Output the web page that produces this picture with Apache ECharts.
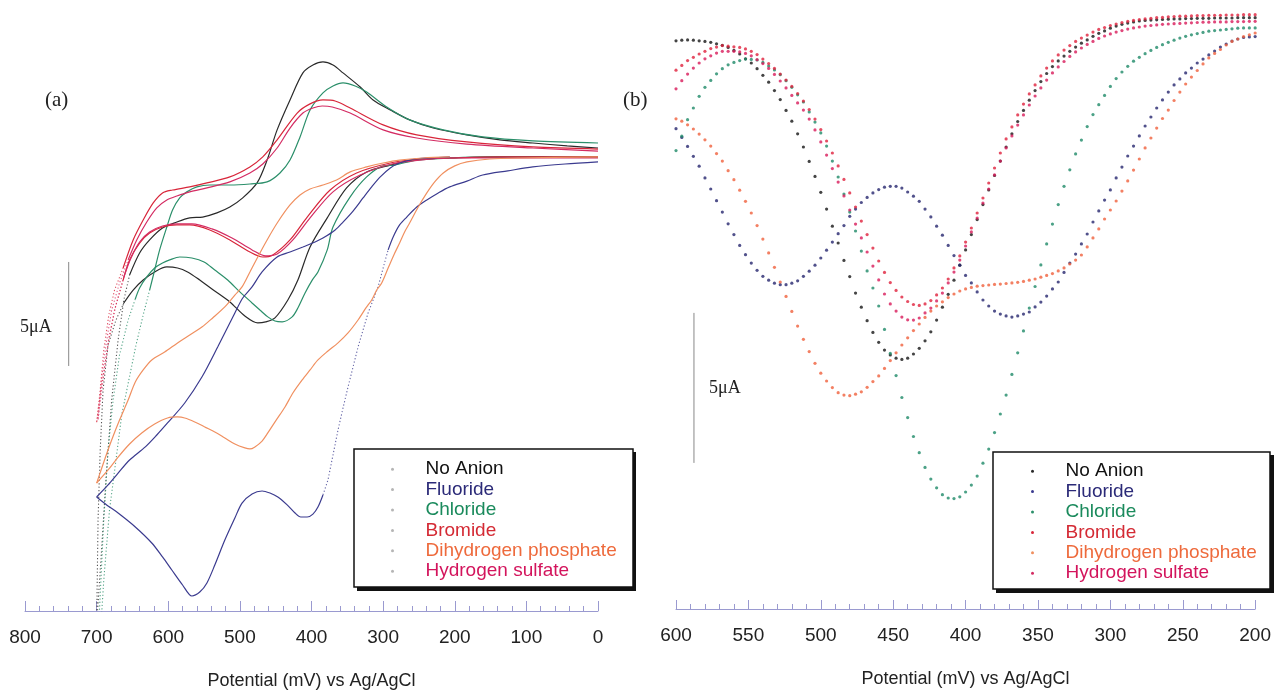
<!DOCTYPE html>
<html><head><meta charset="utf-8">
<script src="https://cdn.jsdelivr.net/npm/echarts@6/dist/echarts.min.js"></script>
<style>html,body{margin:0;padding:0;background:#fff}#chart{width:1274px;height:696px}</style>
</head><body><div id="chart"></div>
<script>
// ---------- common ----------
const anionNames = ['No Anion','Fluoride','Chloride','Bromide','Dihydrogen phosphate','Hydrogen sulfate'];
const axisTitle = 'Potential (mV) vs Ag/AgCl';

// ---------- panel (a): cyclic voltammograms, [potential mV, current µA] ----------
const cvNoAnionForward = [[0,21.83],[67,21.83],[137,21.83],[207,21.78],[249,21.73],[265,21.64],[290,21.44],[323,21.11],[351,20.34],[378,18.90],[402,17.50],[419,15.91],[433,14.95],[451,14.09],[464,13.90],[475,13.85],[493,14.18],[514,14.86],[539,15.48],[556,15.91],[573,16.30],[587,16.49],[602,16.54],[619,16.30],[635,15.91],[649,15.43],[662,14.81]];
const cvNoAnionSwitch = [[662,14.81],[673,13.99],[684,12.79],[691,10.63],[695,7.74],[698,4.38],[700,-0.67],[698,-0.67],[694,2.45],[687,6.30],[679,10.14],[670,13.03],[662,14.95],[654,16.15]];
const cvNoAnionReverse = [[654,16.15],[640,17.21],[626,17.84],[608,18.41],[588,18.70],[570,18.90],[552,18.94],[532,19.14],[514,19.42],[496,19.86],[476,20.58],[462,21.68],[448,23.13],[430,24.57],[412,25.87],[398,26.25],[384,26.40],[370,26.25],[356,25.87],[332,25.19],[314,24.57],[290,24.09],[263,23.61],[230,23.22],[183,22.89],[137,22.65],[91,22.50],[43,22.36],[0,22.26]];

const cvChlorideForward = [[0,21.83],[137,21.83],[207,21.78],[253,21.68],[284,21.44],[300,21.40],[323,20.87],[346,19.91],[370,18.46],[378,17.36],[391,16.30],[399,15.91],[409,15.29],[419,14.57],[427,14.14],[441,13.90],[451,13.94],[461,14.14],[472,14.47],[483,14.81],[500,15.34],[517,15.91],[535,16.39],[550,16.78],[567,16.97],[584,17.02],[598,16.88],[608,16.73],[619,16.49],[630,16.06],[640,15.53],[646,15.00]];
const cvChlorideSwitch = [[646,15.00],[656,13.99],[668,12.31],[677,10.14],[684,7.74],[690,4.38],[694,1.49],[697,-0.67],[694,-0.67],[690,1.49],[682,4.86],[673,7.26],[665,9.42],[655,11.11],[645,12.79],[635,14.23],[626,15.43]];
const cvChlorideReverse = [[626,15.43],[619,16.39],[612,17.36],[602,18.46],[594,19.28],[584,19.86],[574,20.15],[560,20.39],[542,20.48],[514,20.48],[486,20.53],[462,20.63],[444,21.06],[430,21.68],[416,22.79],[402,24.09],[384,24.91],[370,25.24],[356,25.39],[339,25.24],[323,24.95],[295,24.23],[263,23.61],[216,23.13],[161,22.79],[91,22.60],[0,22.50]];

const cvBromideForward = [[0,21.83],[137,21.83],[207,21.78],[249,21.73],[290,21.54],[337,21.06],[374,20.24],[406,18.94],[430,17.84],[454,17.12],[468,17.02],[486,17.26],[514,17.84],[542,18.32],[570,18.56],[588,18.56],[608,18.46],[626,18.17],[640,17.69],[654,16.88],[663,15.91]];
const cvBromideSwitch = [[663,15.91],[675,14.47],[684,12.79],[693,10.87],[700,9.04],[695,10.63],[690,12.55],[683,14.23],[675,15.43],[663,16.49]];
const cvBromideReverse = [[663,16.49],[649,17.84],[635,18.80],[621,19.62],[608,20.10],[594,20.24],[570,20.39],[546,20.58],[514,20.87],[486,21.35],[468,21.83],[448,22.65],[420,23.94],[402,24.38],[384,24.57],[367,24.52],[346,24.18],[300,23.37],[253,22.89],[183,22.55],[91,22.31],[0,22.21]];

const cvHydrogenSulfateForward = [[0,21.78],[137,21.78],[207,21.78],[249,21.68],[288,21.49],[332,20.96],[370,20.15],[402,18.90],[426,17.84],[448,17.16],[464,17.07],[483,17.36],[511,17.93],[539,18.37],[567,18.61],[587,18.61],[608,18.51],[626,18.22],[640,17.74],[652,16.97],[662,16.06]];
const cvHydrogenSulfateSwitch = [[662,16.06],[673,14.71],[683,13.13],[691,11.11],[698,9.18],[694,10.87],[687,12.79],[679,14.47],[668,15.77],[656,16.88]];
const cvHydrogenSulfateReverse = [[656,16.88],[644,17.84],[630,18.70],[616,19.38],[602,19.76],[588,19.95],[570,20.15],[546,20.34],[514,20.63],[486,21.06],[468,21.49],[448,22.26],[430,23.22],[412,23.94],[398,24.18],[385,24.28],[371,24.23],[346,23.94],[300,23.13],[253,22.74],[183,22.45],[91,22.26],[0,22.11]];

const cvFluorideLowStart = [[700,5.48],[686,5.10],[670,4.71],[646,4.04],[623,3.27],[608,2.60],[595,1.97],[580,1.25],[567,0.72],[556,0.91],[546,1.35],[535,2.21],[521,3.41],[507,4.47],[497,5.19],[483,5.63],[469,5.77],[458,5.67],[447,5.48],[434,5.10],[423,4.71],[415,4.52],[406,4.52],[398,4.66],[391,5.00],[384,5.58]];
const cvFluorideSwitch = [[384,5.58],[377,6.30],[370,7.50],[363,8.70],[356,9.76],[349,10.77],[342,11.73],[335,12.69],[328,13.51],[321,14.33],[314,14.95],[307,15.58],[300,16.49],[293,17.36]];
const cvFluorideLowEnd = [[293,17.36],[286,17.98],[277,18.56],[267,18.94],[253,19.42],[239,19.76],[223,20.10],[207,20.39],[183,20.67],[161,20.96],[126,21.16],[91,21.35],[46,21.49],[0,21.59]];
const cvFluorideUpper = [[700,5.48],[684,6.06],[670,6.63],[654,7.26],[632,7.89],[616,8.46],[601,9.04],[577,10.00],[553,11.25],[531,12.69],[507,14.33],[496,15.05],[483,15.58],[469,16.30],[448,17.02],[430,17.26],[412,17.50],[395,17.74],[384,17.93],[367,18.32],[356,18.70],[342,19.23],[328,19.86],[316,20.39],[304,20.87],[290,21.30],[277,21.54],[256,21.73],[235,21.78],[207,21.83]];

const cvPhosphateLower = [[700,6.15],[684,6.78],[670,7.40],[654,8.03],[637,8.56],[619,8.99],[601,9.28],[587,9.33],[577,9.28],[563,9.09],[549,8.85],[535,8.61],[521,8.32],[507,8.03],[493,7.84],[486,7.79],[479,7.89],[469,8.17],[461,8.56],[450,9.14],[437,9.81],[426,10.48],[413,11.11],[402,11.59],[391,12.07],[377,12.50],[363,12.89],[349,13.37],[335,13.99],[324,14.57],[316,14.95],[309,15.43],[302,15.77],[293,16.49],[285,17.12],[277,17.69],[270,18.22],[263,18.65],[251,19.42],[239,20.10],[228,20.63],[216,21.06],[200,21.40],[183,21.59],[151,21.73],[109,21.78],[0,21.83]];
const cvPhosphateUpper = [[700,6.15],[689,7.26],[679,8.22],[668,9.18],[656,10.14],[646,11.01],[635,11.59],[623,12.07],[605,12.45],[587,12.89],[570,13.27],[553,13.65],[538,14.09],[521,14.62],[507,15.19],[497,15.58],[486,16.30],[475,17.02],[462,17.84],[447,18.70],[430,19.52],[416,20.00],[402,20.29],[384,20.48],[365,20.72],[346,21.11],[323,21.35],[300,21.54],[277,21.68],[244,21.78],[207,21.83]];

const cvScaleBar = [[739,16.78],[739,11.78]];   // 5 µA

// ---------- panel (b): differential pulse voltammograms ----------
const dpvPotential = [600,596,592,588,584,580,576,572,568,564,560,556,552,548,544,540,536,532,528,524,520,516,512,508,504,500,496,492,488,484,480,476,472,468,464,460,456,452,448,444,440,436,432,428,424,420,416,412,408,404,400,396,392,388,384,380,376,372,368,364,360,356,352,348,344,340,336,332,328,324,320,316,312,308,304,300,296,292,288,284,280,276,272,268,264,260,256,252,248,244,240,236,232,228,224,220,216,212,208,204,200];
const dpvNoAnion = [18.94,18.96,18.97,18.96,18.94,18.92,18.89,18.84,18.79,18.72,18.62,18.50,18.34,18.20,18.01,17.79,17.56,17.28,16.98,16.62,16.26,15.84,15.40,14.92,14.42,13.89,13.33,12.76,12.20,11.62,11.08,10.53,10.06,9.61,9.22,8.89,8.63,8.47,8.36,8.32,8.36,8.50,8.69,8.94,9.24,9.63,10.06,10.49,10.96,11.46,11.97,12.48,12.98,13.48,13.97,14.45,14.93,15.40,15.84,16.25,16.62,16.96,17.28,17.58,17.85,18.08,18.27,18.43,18.59,18.73,18.86,18.97,19.09,19.19,19.27,19.36,19.43,19.49,19.53,19.57,19.60,19.62,19.63,19.64,19.65,19.66,19.67,19.67,19.68,19.68,19.69,19.69,19.69,19.70,19.70,19.70,19.70,19.71,19.71,19.71,19.71];
const dpvFluoride = [16.01,15.72,15.42,15.09,14.76,14.37,14.00,13.61,13.23,12.84,12.48,12.12,11.81,11.53,11.29,11.09,10.96,10.86,10.81,10.81,10.86,10.94,11.09,11.26,11.46,11.70,11.96,12.23,12.51,12.78,13.09,13.33,13.55,13.72,13.87,13.98,14.06,14.09,14.09,14.03,13.90,13.76,13.59,13.33,13.07,12.76,12.46,12.12,11.78,11.46,11.12,10.87,10.57,10.30,10.10,9.93,9.83,9.77,9.73,9.77,9.83,9.90,10.07,10.23,10.43,10.67,10.90,11.22,11.53,11.83,12.17,12.50,12.90,13.27,13.63,13.97,14.37,14.73,15.10,15.43,15.77,16.10,16.40,16.70,16.97,17.23,17.47,17.67,17.87,18.03,18.20,18.33,18.47,18.60,18.73,18.83,18.93,19.00,19.05,19.07,19.08];
const dpvChloride = [15.28,15.76,16.31,16.70,17.09,17.39,17.62,17.84,18.01,18.14,18.22,18.28,18.33,18.32,18.30,18.22,18.10,17.97,17.81,17.61,17.39,17.14,16.90,16.57,16.23,15.87,15.43,14.93,14.40,13.83,13.23,12.60,11.93,11.27,10.70,10.10,9.32,8.52,7.78,7.05,6.38,5.75,5.21,4.72,4.33,4.04,3.81,3.70,3.68,3.74,3.90,4.13,4.43,4.86,5.33,5.88,6.50,7.13,7.82,8.54,9.27,10.03,10.75,11.47,12.17,12.83,13.48,14.09,14.64,15.17,15.63,16.08,16.48,16.81,17.12,17.42,17.68,17.90,18.09,18.26,18.39,18.51,18.62,18.72,18.81,18.89,18.96,19.03,19.09,19.14,19.18,19.22,19.26,19.28,19.30,19.32,19.34,19.36,19.37,19.37,19.37];
const dpvBromide = [17.96,18.12,18.28,18.39,18.50,18.59,18.68,18.73,18.78,18.76,18.74,18.72,18.67,18.59,18.48,18.33,18.18,18.02,17.83,17.63,17.42,17.18,16.93,16.65,16.33,15.98,15.60,15.20,14.77,14.32,13.87,13.40,12.93,12.48,12.03,11.60,11.22,10.88,10.62,10.40,10.25,10.15,10.12,10.17,10.28,10.47,10.70,11.00,11.37,11.77,12.23,12.70,13.20,13.70,14.20,14.70,15.20,15.67,16.07,16.47,16.83,17.17,17.47,17.77,18.03,18.27,18.47,18.63,18.78,18.92,19.03,19.13,19.23,19.32,19.38,19.45,19.50,19.55,19.59,19.62,19.65,19.67,19.69,19.71,19.72,19.74,19.75,19.76,19.76,19.77,19.78,19.78,19.79,19.79,19.79,19.80,19.80,19.80,19.81,19.81,19.81];
const dpvPhosphate = [16.34,16.26,16.14,16.00,15.83,15.64,15.43,15.18,14.93,14.61,14.31,13.96,13.59,13.20,12.78,12.33,11.87,11.39,10.90,10.42,9.92,9.43,8.99,8.58,8.19,7.86,7.60,7.38,7.21,7.13,7.11,7.16,7.24,7.39,7.58,7.77,8.02,8.28,8.54,8.80,9.04,9.28,9.50,9.72,9.93,10.10,10.24,10.38,10.50,10.60,10.67,10.72,10.76,10.78,10.80,10.82,10.83,10.85,10.87,10.89,10.92,10.96,11.00,11.06,11.12,11.18,11.27,11.37,11.50,11.63,11.80,12.07,12.37,12.67,13.00,13.30,13.60,13.93,14.27,14.63,15.00,15.37,15.70,16.03,16.35,16.63,16.95,17.23,17.50,17.73,17.95,18.17,18.37,18.52,18.65,18.80,18.92,19.00,19.08,19.14,19.20];
const dpvHydrogenSulfate = [17.34,17.61,17.83,18.03,18.20,18.34,18.44,18.53,18.59,18.59,18.59,18.57,18.52,18.44,18.31,18.18,18.02,17.82,17.60,17.37,17.12,16.87,16.63,16.33,15.97,15.57,15.13,14.68,14.23,13.77,13.30,12.83,12.37,11.90,11.43,10.97,10.50,10.17,9.93,9.73,9.64,9.63,9.70,9.87,10.03,10.27,10.53,10.87,11.23,11.63,12.10,12.57,13.03,13.53,14.00,14.47,14.93,15.37,15.77,16.13,16.47,16.80,17.10,17.37,17.63,17.87,18.07,18.25,18.42,18.57,18.70,18.82,18.92,19.02,19.10,19.17,19.23,19.28,19.33,19.37,19.40,19.43,19.45,19.47,19.49,19.50,19.51,19.52,19.53,19.54,19.55,19.56,19.56,19.57,19.57,19.57,19.58,19.58,19.58,19.59,19.59];

const dpvScaleBar = [[587.6,9.87],[587.6,4.87]];   // 5 µA

// ---------- styling ----------
const lineColors = ['#2a2a2a','#3b3b8f','#2b8f6a','#d8263a','#f09060','#d42c63'];
const dotColors  = ['#151515','#25256e','#1e8a68','#e0203c','#f0603c','#d81a5a'];
const textColors = ['#111111','#2b2a78','#1a8a5c','#d42a34','#ee6a3c','#d3145c'];
const FONT = '"Liberation Sans", Arial, Helvetica, sans-serif';
const SERIF = '"Liberation Serif", "Times New Roman", serif';
const axisBlue = '#9a9ad0';

function cv(nameIdx, data, dotted) {
  return {
    type: 'line', name: anionNames[nameIdx], xAxisIndex: 0, yAxisIndex: 0,
    data: data, showSymbol: false, symbol: 'none', smooth: dotted ? false : 0.3,
    clip: true, silent: true, z: 2,
    itemStyle: { color: lineColors[nameIdx] },
    lineStyle: { color: lineColors[nameIdx], width: dotted ? 1.1 : 1.2, type: dotted ? [1.2, 2.2] : 'solid', opacity: dotted ? 0.8 : 1 }
  };
}
function dpv(nameIdx, values) {
  return {
    type: 'scatter', name: anionNames[nameIdx], xAxisIndex: 1, yAxisIndex: 1,
    data: dpvPotential.map((p, i) => [p, values[i]]),
    symbol: 'circle', symbolSize: 3.2, silent: true, z: 2,
    itemStyle: { color: dotColors[nameIdx] }
  };
}
function bar(axisIdx, data) {
  return {
    type: 'line', name: 'scale', xAxisIndex: axisIdx, yAxisIndex: axisIdx, data: data,
    showSymbol: false, symbol: 'none', silent: true,
    lineStyle: { color: '#888', width: 1 }
  };
}
function xAxisCfg(grid, min, max, interval, tickLen) {
  return {
    type: 'value', gridIndex: grid, min: min, max: max, interval: interval, inverse: true,
    position: 'bottom',
    axisLine: { show: true, lineStyle: { color: axisBlue, width: 1 } },
    axisTick: { show: true, inside: true, length: tickLen, lineStyle: { color: axisBlue } },
    minorTick: { show: true, splitNumber: 5, length: 5, lineStyle: { color: axisBlue } },
    splitLine: { show: false }, minorSplitLine: { show: false },
    axisLabel: { show: true, fontSize: 19, color: '#222', fontFamily: FONT, margin: 17, showMinLabel: true, showMaxLabel: true },
    name: axisTitle, nameLocation: 'middle', nameGap: 61,
    nameTextStyle: { fontSize: 18, color: '#222', fontFamily: FONT }
  };
}
function legendCfg(left, top, iconColor) {
  const cfg = {
    orient: 'vertical', left: left, top: top, icon: 'circle',
    itemWidth: 56, itemHeight: 3, itemGap: 0, padding: 0, selectedMode: false,
    textStyle: { fontSize: 19, fontFamily: FONT, lineHeight: 20.4 },
    data: anionNames.map((n, i) => ({ name: n, textStyle: { color: textColors[i] } })),
    z: 6
  };
  cfg.itemStyle = iconColor ? { color: iconColor, borderWidth: 0 } : { borderWidth: 0 };
  return cfg;
}

const series = [
  cv(0, cvNoAnionForward), cv(0, cvNoAnionSwitch, true), cv(0, cvNoAnionReverse),
  cv(2, cvChlorideForward), cv(2, cvChlorideSwitch, true), cv(2, cvChlorideReverse),
  cv(3, cvBromideForward), cv(3, cvBromideSwitch, true), cv(3, cvBromideReverse),
  cv(5, cvHydrogenSulfateForward), cv(5, cvHydrogenSulfateSwitch, true), cv(5, cvHydrogenSulfateReverse),
  cv(1, cvFluorideLowStart), cv(1, cvFluorideSwitch, true), cv(1, cvFluorideLowEnd), cv(1, cvFluorideUpper),
  cv(4, cvPhosphateLower), cv(4, cvPhosphateUpper),
  bar(0, cvScaleBar), bar(1, dpvScaleBar),
  dpv(0, dpvNoAnion), dpv(1, dpvFluoride), dpv(2, dpvChloride),
  dpv(3, dpvBromide), dpv(4, dpvPhosphate), dpv(5, dpvHydrogenSulfate)
];

const chart = echarts.init(document.getElementById('chart'), null, { renderer: 'canvas' });
chart.setOption({
  animation: false,
  backgroundColor: '#ffffff',
  grid: [
    { left: 25, right: 676, top: 39, bottom: 85, containLabel: false },
    { left: 676, right: 18, top: 9, bottom: 87, containLabel: false }
  ],
  xAxis: [ xAxisCfg(0, 0, 800, 100, 10), xAxisCfg(1, 200, 600, 50, 9) ],
  yAxis: [
    { type: 'value', gridIndex: 0, min: 0, max: 27.5, show: false },
    { type: 'value', gridIndex: 1, min: 0, max: 20, show: false }
  ],
  legend: [ legendCfg(391, 459, '#b5b5b5'), legendCfg(1031, 461, null) ],
  graphic: [
    { type: 'rect', z: 3, silent: true, shape: { x: 357, y: 452, width: 279, height: 139 }, style: { fill: '#111' } },
    { type: 'rect', z: 3, silent: true, shape: { x: 354, y: 449, width: 279, height: 138 }, style: { fill: '#fff', stroke: '#111', lineWidth: 1.5 } },
    { type: 'rect', z: 3, silent: true, shape: { x: 996, y: 455, width: 278, height: 138 }, style: { fill: '#111' } },
    { type: 'rect', z: 3, silent: true, shape: { x: 993, y: 452, width: 277, height: 137 }, style: { fill: '#fff', stroke: '#111', lineWidth: 1.5 } },
    { type: 'text', z: 5, silent: true, x: 45, y: 90, style: { text: '(a)', font: '21px ' + SERIF, fill: '#222' } },
    { type: 'text', z: 5, silent: true, x: 623, y: 90, style: { text: '(b)', font: '21px ' + SERIF, fill: '#222' } },
    { type: 'text', z: 5, silent: true, x: 20, y: 318, style: { text: '5\u03bcA', font: '18px ' + SERIF, fill: '#222' } },
    { type: 'text', z: 5, silent: true, x: 709, y: 379, style: { text: '5\u03bcA', font: '18px ' + SERIF, fill: '#222' } }
  ],
  series: series
});
</script></body></html>
